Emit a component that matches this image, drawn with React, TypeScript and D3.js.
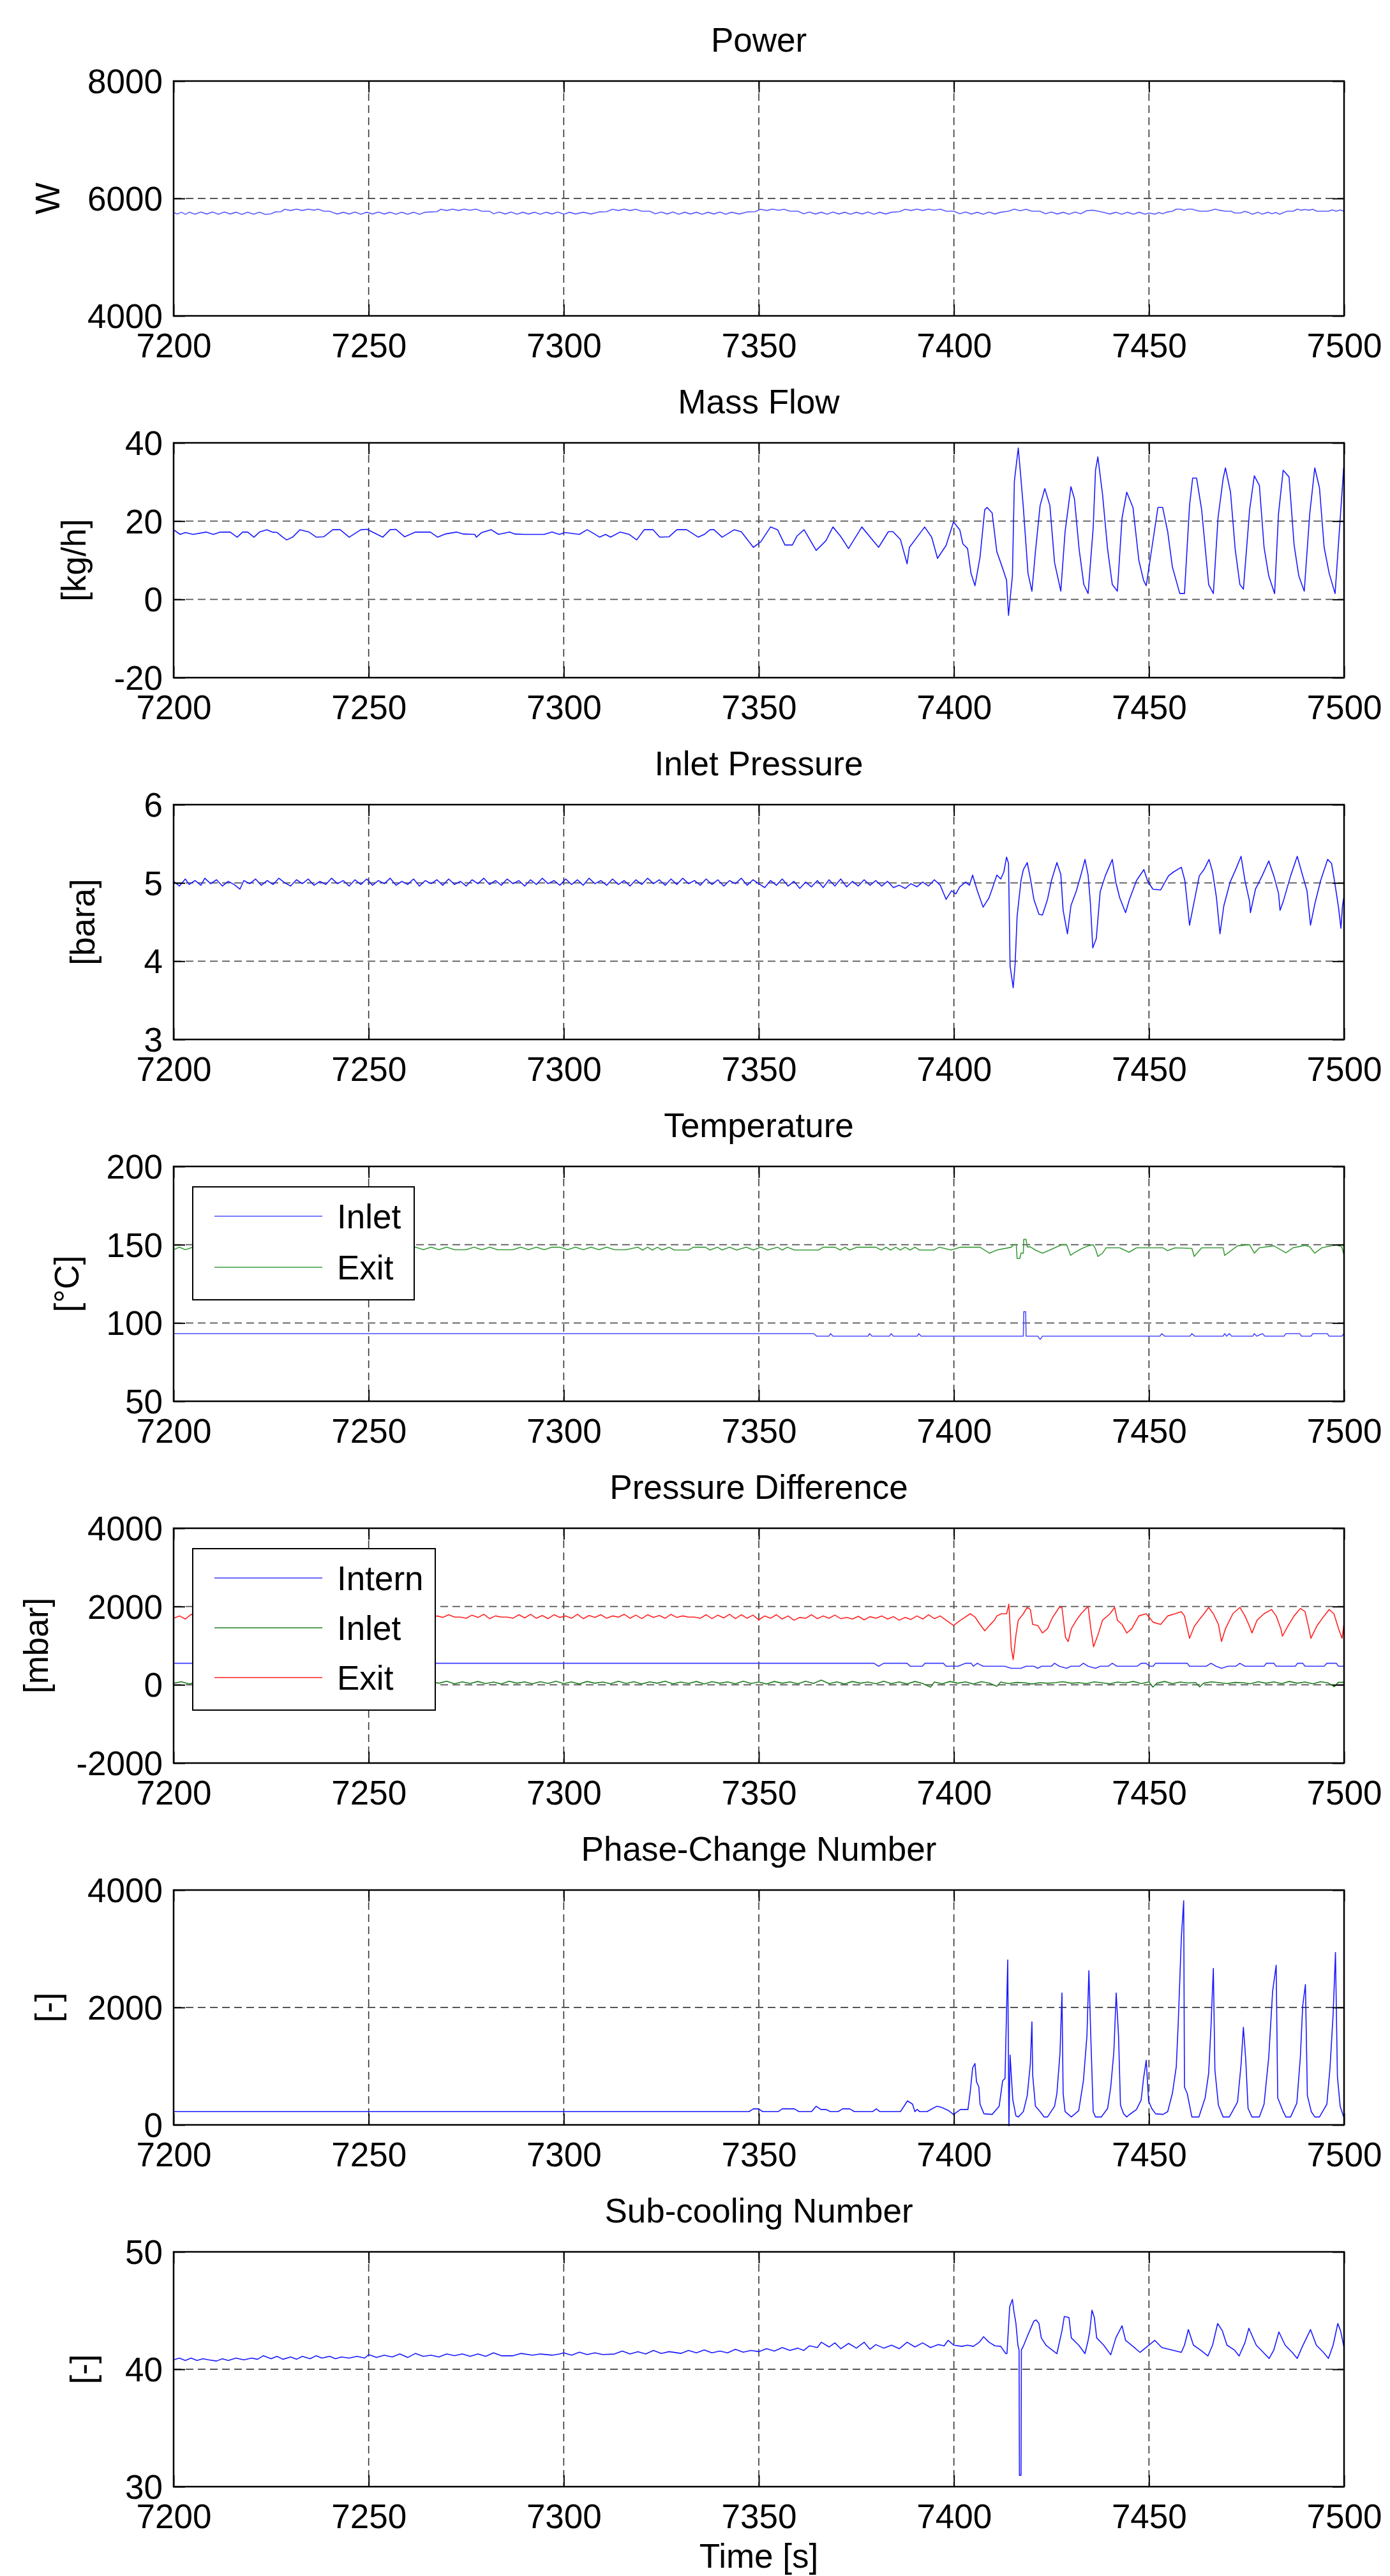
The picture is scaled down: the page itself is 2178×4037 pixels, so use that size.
import React, { useEffect, useRef } from "react";
import * as d3 from "d3";

// ---- data (time [s], value) ----
const power = [
  [7200, 5760], [7201, 5735], [7202, 5765], [7203, 5730], [7204, 5765], [7205.5, 5730], [7207, 5768], [7208.5, 5735],
  [7210, 5768], [7211.5, 5730], [7213, 5768], [7214.5, 5735], [7216, 5765], [7217.5, 5728], [7219, 5765], [7220.5, 5730],
  [7222, 5765], [7223.5, 5728], [7225, 5740], [7226, 5770], [7227.5, 5775], [7228.5, 5815], [7230, 5795], [7231.5, 5818],
  [7233, 5795], [7234.5, 5818], [7236, 5800], [7237, 5818], [7238.5, 5782], [7240, 5782], [7241, 5755], [7242, 5735],
  [7243.5, 5765], [7245, 5735], [7246.5, 5768], [7248, 5732], [7249.5, 5765], [7251, 5735], [7252.5, 5768], [7254, 5735],
  [7255.5, 5765], [7257, 5730], [7258.5, 5765], [7260, 5732], [7261.5, 5765], [7263, 5730], [7264.5, 5765], [7266, 5770],
  [7267.5, 5775], [7268.5, 5815], [7270, 5795], [7271.5, 5818], [7273, 5795], [7274.5, 5818], [7276, 5798], [7277.5, 5818],
  [7279, 5782], [7281, 5782], [7282, 5740], [7283.5, 5768], [7285, 5735], [7286.5, 5768], [7288, 5732], [7289.5, 5765],
  [7291, 5735], [7292.5, 5765], [7294, 5730], [7295.5, 5765], [7297, 5735], [7298.5, 5768], [7300, 5732], [7301.5, 5765],
  [7303, 5735], [7305, 5765], [7307, 5735], [7309, 5770], [7311, 5775], [7312.5, 5815], [7314, 5795], [7315.5, 5818],
  [7317, 5795], [7318.5, 5815], [7320, 5782], [7322, 5782], [7323.5, 5740], [7325, 5768], [7326.5, 5735], [7328, 5768],
  [7329.5, 5732], [7331, 5765], [7332.5, 5735], [7334, 5765], [7335.5, 5732], [7337, 5765], [7338.5, 5735], [7340, 5768],
  [7341.5, 5732], [7343, 5765], [7345, 5735], [7347, 5770], [7349, 5775], [7350.5, 5815], [7352, 5795], [7353.5, 5818],
  [7355, 5798], [7356.5, 5815], [7358, 5782], [7360, 5782], [7361.5, 5740], [7363, 5768], [7364.5, 5735], [7366, 5765],
  [7367.5, 5732], [7369, 5768], [7370.5, 5735], [7372, 5765], [7373.5, 5732], [7375, 5765], [7376.5, 5735], [7378, 5768],
  [7379.5, 5732], [7381, 5765], [7382.5, 5735], [7384, 5765], [7386, 5775], [7387.5, 5815], [7389, 5795], [7390.5, 5818],
  [7392, 5795], [7393.5, 5818], [7395, 5798], [7396.5, 5818], [7398, 5782], [7400, 5782], [7401.5, 5740], [7403, 5768],
  [7404.5, 5735], [7406, 5765], [7407.5, 5732], [7409, 5768], [7410.5, 5735], [7412, 5765], [7414, 5782], [7415.5, 5818],
  [7417, 5790], [7418.5, 5815], [7420, 5782], [7422, 5782], [7423.5, 5740], [7425, 5768], [7426.5, 5735], [7428, 5765],
  [7429.5, 5732], [7431, 5768], [7432.5, 5740], [7434, 5790], [7435.5, 5800], [7437, 5782], [7438.5, 5760], [7440, 5735],
  [7441.5, 5765], [7443, 5730], [7444.5, 5765], [7446, 5732], [7447.5, 5765], [7449, 5732], [7450, 5752], [7451.5, 5732],
  [7452.5, 5762], [7453.5, 5740], [7454.5, 5765], [7456, 5782], [7457, 5818], [7458, 5818], [7459, 5800], [7460, 5818],
  [7461, 5818], [7462, 5800], [7463, 5782], [7465, 5782], [7466, 5800], [7467, 5818], [7468, 5800], [7469.5, 5782],
  [7471, 5782], [7472, 5752], [7473.5, 5752], [7474.5, 5780], [7475.5, 5762], [7476.5, 5730], [7478, 5765], [7479, 5732],
  [7480.5, 5765], [7481.5, 5740], [7482.5, 5762], [7483.5, 5732], [7484.5, 5762], [7485.5, 5782], [7487, 5782], [7488, 5818],
  [7489, 5800], [7490, 5812], [7491, 5800], [7492, 5815], [7493, 5782], [7496, 5782], [7497, 5805], [7498, 5782],
  [7499, 5805], [7500, 5782],
];

const massFlow = [
  [7200, 17.8], [7201.7, 16.6], [7203, 17.1], [7205, 16.6], [7208.3, 17.2], [7210.2, 16.6], [7212, 17.2], [7214.5, 17.2],
  [7216.3, 15.9], [7217.7, 17.2], [7219, 17.2], [7220.6, 15.9], [7222, 17.2], [7223.9, 17.8], [7225.3, 17.2], [7226.5, 17.1],
  [7228, 15.9], [7229, 15.2], [7230.5, 15.9], [7232.4, 17.8], [7234.7, 17.2], [7236.6, 15.9], [7238.5, 16.0], [7240.8, 17.8],
  [7242.7, 17.8], [7245, 15.9], [7248, 17.8], [7249.6, 17.9], [7252.2, 16.6], [7253.6, 15.9], [7255.5, 17.8], [7257, 17.9],
  [7259.2, 16.0], [7262, 17.2], [7265.8, 17.2], [7267.7, 15.9], [7269.6, 16.7], [7272.5, 17.2], [7274.3, 16.7], [7277.2, 16.6],
  [7277.6, 15.9], [7279, 17.1], [7281.4, 17.8], [7283.3, 16.6], [7286.1, 17.2], [7287.5, 16.7], [7289.9, 16.6], [7295, 16.6],
  [7297, 17.2], [7298.9, 16.6], [7300.3, 17.1], [7304, 16.6], [7306, 17.8], [7307.9, 16.7], [7309.2, 15.9], [7310.7, 16.6],
  [7312, 15.9], [7314.4, 17.2], [7316.8, 16.6], [7318.7, 15.2], [7320.6, 17.8], [7322.9, 17.8], [7324.6, 15.9], [7327, 16.0],
  [7329, 17.8], [7331.5, 17.8], [7334.5, 15.9], [7336, 16.6], [7337.5, 17.8], [7338.5, 17.8], [7340.6, 15.9], [7343.7, 17.8],
  [7345.5, 17.3], [7348.6, 13.3], [7350.5, 14.7], [7353, 18.5], [7354.8, 17.8], [7356.7, 13.9], [7358.6, 13.9], [7359.8, 16.2],
  [7361.6, 17.8], [7364.7, 12.5], [7367.2, 15.0], [7369, 18.5], [7370.9, 16.2], [7373, 13.0], [7376.4, 18.5], [7380.7, 13.3],
  [7383.2, 17.3], [7384.4, 17.3], [7386.3, 15.3], [7388, 9.1], [7388.6, 13.3], [7392.5, 18.5], [7394.3, 15.9], [7395.8, 10.5],
  [7398, 13.8], [7399.9, 19.8], [7401.5, 17.8], [7402.3, 14.2], [7403.5, 13.0], [7404.4, 6.6], [7405.4, 3.5], [7406.7, 10.8],
  [7407.9, 22.9], [7408.5, 23.5], [7409.8, 22.1], [7411, 12.2], [7412.2, 8.8], [7413.5, 4.9], [7414, -4.1], [7415, 6],
  [7415.5, 30.2], [7416.5, 38.7], [7417, 33], [7417.8, 23.5], [7419, 6.6], [7420, 2.1], [7420.9, 12.2], [7422.1, 24],
  [7423.3, 28.3], [7424.6, 24], [7425.8, 9.4], [7427.4, 2.1], [7428.5, 17.3], [7430, 28.8], [7430.9, 25.7], [7432.1, 12.8],
  [7433.3, 3.8], [7434.4, 1.5], [7435.7, 18.3], [7436.3, 33], [7436.9, 36.4], [7438.1, 26.8], [7439.4, 12.8], [7440.6, 3.8],
  [7441.9, 2.1], [7443.1, 20.8], [7444.3, 27.4], [7445.9, 23.5], [7447.4, 10.0], [7448.6, 4.9], [7449.3, 3.5], [7450.6, 12.2],
  [7452.3, 23.5], [7453.5, 23.5], [7454.8, 17.3], [7456, 8.3], [7457.9, 1.5], [7459.1, 1.5], [7460.4, 24], [7461.2, 31],
  [7462.2, 31], [7463.5, 22.9], [7465.3, 3.8], [7466.5, 1.5], [7467.7, 20.8], [7469, 30.8], [7469.6, 33.6], [7470.9, 27.4],
  [7472.1, 12.8], [7473.3, 3.8], [7474.2, 2.6], [7475.8, 22.9], [7477, 31.6], [7478.3, 29.1], [7479.5, 13.3], [7480.7, 6],
  [7482.2, 1.5], [7483.2, 21.8], [7484.4, 33], [7485.9, 31.3], [7487.2, 13.9], [7488.4, 6], [7489.8, 2.1], [7491.2, 21.8],
  [7492.5, 33.6], [7493.7, 28.5], [7494.9, 13.3], [7496.2, 6.6], [7497.7, 1.5], [7498.6, 14.5], [7499.9, 33.6], [7500, 33.6],
];

const inletPressure = [
  [7200, 5.02], [7201.5, 4.96], [7203, 5.05], [7204, 4.98], [7205.5, 5.03], [7207, 4.97], [7208, 5.06], [7209.5, 4.99],
  [7211, 5.04], [7212.5, 4.96], [7214, 5.02], [7215.5, 4.98], [7217, 4.92], [7218, 5.03], [7219.5, 4.99], [7221, 5.05],
  [7222.5, 4.97], [7224, 5.03], [7225.5, 4.98], [7227, 5.06], [7228.5, 5.0], [7230, 4.96], [7231.5, 5.04], [7233, 4.99],
  [7234.5, 5.05], [7236, 4.97], [7237.5, 5.02], [7239, 4.98], [7240.5, 5.06], [7242, 4.99], [7243.5, 5.03], [7245, 4.96],
  [7246.5, 5.04], [7248, 4.98], [7249.5, 5.05], [7251, 4.97], [7252.5, 5.03], [7254, 4.99], [7255.5, 5.06], [7257, 4.97],
  [7258.5, 5.02], [7260, 4.98], [7261.5, 5.05], [7263, 4.96], [7264.5, 5.03], [7266, 4.99], [7267.5, 5.04], [7269, 4.97],
  [7270.5, 5.05], [7272, 4.98], [7273.5, 5.02], [7275, 4.96], [7276.5, 5.04], [7278, 4.99], [7279.5, 5.06], [7281, 4.98],
  [7282.5, 5.03], [7284, 4.97], [7285.5, 5.05], [7287, 4.99], [7288.5, 5.03], [7290, 4.96], [7291.5, 5.04], [7293, 4.98],
  [7294.5, 5.06], [7296, 4.99], [7297.5, 5.03], [7299, 4.97], [7300.5, 5.05], [7302, 4.98], [7303.5, 5.04], [7305, 4.97],
  [7306.5, 5.06], [7308, 4.99], [7309.5, 5.03], [7311, 4.97], [7312.5, 5.05], [7314, 4.98], [7315.5, 5.03], [7317, 4.96],
  [7318.5, 5.04], [7320, 4.98], [7321.5, 5.06], [7323, 4.99], [7324.5, 5.04], [7326, 4.97], [7327.5, 5.05], [7329, 4.98],
  [7330.5, 5.06], [7332, 4.99], [7333.5, 5.03], [7335, 4.97], [7336.5, 5.05], [7338, 4.98], [7339.5, 5.04], [7341, 4.96],
  [7342.5, 5.03], [7344, 4.99], [7345.5, 5.06], [7347, 4.97], [7348.5, 5.04], [7350, 4.99], [7351.5, 4.94], [7353, 5.03],
  [7354.5, 4.97], [7356, 5.05], [7357.5, 4.96], [7359, 5.02], [7360.5, 4.93], [7362, 5.01], [7363.5, 4.95], [7365, 5.03],
  [7366.5, 4.94], [7368, 5.04], [7369.5, 4.96], [7371, 5.05], [7372.5, 4.95], [7374, 5.02], [7375.5, 4.96], [7377, 5.04],
  [7378.5, 4.97], [7380, 5.03], [7381.5, 4.96], [7383, 5.02], [7384.5, 4.94], [7386, 4.97], [7387.5, 4.93], [7389, 4.99],
  [7390.5, 4.95], [7392, 5.01], [7393.5, 4.96], [7395, 5.04], [7396.5, 4.97], [7397.5, 4.85], [7398, 4.79], [7399.4, 4.9],
  [7400.5, 4.86], [7401.5, 4.95], [7403, 5.01], [7404, 4.97], [7404.8, 5.1], [7406, 4.9], [7407.5, 4.69], [7409, 4.81],
  [7410, 4.95], [7411, 5.1], [7412, 5.05], [7412.8, 5.14], [7413.5, 5.33], [7414, 5.25], [7414.4, 3.94], [7415.2, 3.66],
  [7415.7, 3.97], [7416.2, 4.57], [7417.2, 5.03], [7417.8, 5.17], [7418.8, 5.26], [7419.6, 5.06], [7420.5, 4.79], [7421.8, 4.6],
  [7422.7, 4.59], [7424, 4.79], [7425, 5.03], [7426.4, 5.26], [7427.4, 5.11], [7428, 4.65], [7429.1, 4.35], [7430, 4.71],
  [7431.4, 4.9], [7432.6, 5.11], [7433.6, 5.3], [7434.4, 5.1], [7435, 4.73], [7435.6, 4.17], [7436.5, 4.29], [7437.5, 4.89],
  [7438.8, 5.09], [7440.6, 5.3], [7441.5, 5.01], [7442.5, 4.81], [7444, 4.62], [7445, 4.79], [7446.8, 5.03], [7448.7, 5.17],
  [7449.6, 5.03], [7451, 4.92], [7453, 4.91], [7455, 5.09], [7456.3, 5.14], [7458.3, 5.2], [7459.2, 5.03], [7460.4, 4.46],
  [7461.7, 4.79], [7462.9, 5.09], [7464.1, 5.17], [7465.4, 5.3], [7466.3, 5.14], [7467.3, 4.81], [7468.2, 4.35], [7469.2, 4.71],
  [7470.8, 5.01], [7472.3, 5.18], [7473.6, 5.34], [7474.6, 5.03], [7475.8, 4.76], [7476, 4.62], [7477.3, 4.92], [7479, 5.09],
  [7480.7, 5.28], [7482, 5.09], [7483.2, 4.87], [7483.6, 4.65], [7484.4, 4.76], [7486.3, 5.09], [7488, 5.34], [7489.3, 5.11],
  [7490.5, 4.9], [7491.4, 4.46], [7492.5, 4.73], [7494, 5.03], [7495.8, 5.3], [7496.8, 5.25], [7497.6, 5.01], [7498.6, 4.68],
  [7499.2, 4.42], [7499.6, 4.71], [7500, 4.83],
];

const tempInlet = [
  [7200, 93.2], [7364.1, 93.2], [7364.8, 91.6], [7368, 91.6], [7368.4, 93.2], [7369, 91.6], [7378, 91.6], [7378.4, 93.2],
  [7379, 91.6], [7383.5, 91.6], [7383.9, 93.2], [7384.5, 91.6], [7390.6, 91.6], [7391, 93.2], [7391.6, 91.6], [7417.8, 91.6],
  [7417.9, 107.2], [7418.4, 107.2], [7418.5, 91.6], [7421.5, 91.6], [7422.1, 89.5], [7422.7, 91.6], [7452.8, 91.6],
  [7453.3, 93.2], [7454, 91.6], [7460.5, 91.6], [7461, 93.2], [7461.7, 91.6], [7469, 91.6], [7469.4, 93.2], [7469.9, 91.6],
  [7470.6, 93.2], [7471.2, 91.6], [7476.6, 91.6], [7477, 93.2], [7477.6, 91.6], [7479.1, 93.2], [7479.7, 91.6], [7484.6, 91.6],
  [7485.1, 93.2], [7488.6, 93.2], [7489.1, 91.6], [7491.5, 91.6], [7492, 93.2], [7495.7, 93.2], [7496.2, 91.6], [7499.4, 91.6],
  [7500, 93.2],
];

const tempExit = [
  [7200, 146.8], [7201.5, 148.4], [7203, 146.8], [7205, 148.4], [7207, 146.8], [7209, 148.4], [7211, 146.8], [7213.5, 146.8],
  [7215, 148.4], [7217, 146.8], [7219.5, 148.4], [7221, 146.8], [7223, 148.4], [7225, 146.8], [7227, 148.4], [7229, 146.8],
  [7232, 146.8], [7234, 148.4], [7236, 146.8], [7238, 148.4], [7240, 146.8], [7242, 148.4], [7244, 146.8], [7246, 148.4],
  [7248, 148.4], [7250, 146.8], [7252, 148.4], [7254, 146.8], [7256, 148.4], [7258, 146.8], [7260, 148.4], [7262, 148.4],
  [7264, 146.8], [7266, 148.4], [7268, 146.8], [7270, 148.4], [7272, 146.8], [7275, 146.8], [7277, 148.4], [7279, 146.8],
  [7281, 148.4], [7283, 146.8], [7287, 146.8], [7289, 148.4], [7291, 146.8], [7293, 148.4], [7295, 146.8], [7297, 148.4],
  [7299, 148.4], [7301, 146.8], [7303, 148.4], [7305, 146.8], [7307, 148.4], [7309, 146.8], [7311, 148.4], [7313, 146.8],
  [7316, 146.8], [7319, 148.4], [7320.2, 146.6], [7321.5, 148.4], [7322.7, 146.6], [7324, 148.4], [7325.2, 146.6],
  [7327, 148.4], [7328.3, 146.6], [7332, 146.6], [7333.2, 148.4], [7336.3, 148.4], [7337.5, 146.6], [7339.4, 148.4],
  [7340.6, 146.6], [7342.5, 148.4], [7344.3, 146.6], [7346.8, 148.4], [7348.6, 146.6], [7350.5, 148.4], [7352.3, 146.6],
  [7354.8, 148.4], [7356, 146.6], [7357.3, 148.4], [7359.1, 146.6], [7365.3, 146.6], [7366.5, 148.4], [7369.5, 148.4],
  [7370.9, 146.6], [7372.1, 148.4], [7373.3, 146.6], [7375.2, 148.4], [7380, 148.4], [7381.4, 146.6], [7382.6, 148.4],
  [7383.8, 146.6], [7385.1, 148.4], [7386.3, 146.6], [7387.5, 148.4], [7388.8, 146.6], [7390, 148.4], [7391.2, 146.6],
  [7394.9, 146.6], [7396.2, 148.4], [7399.3, 146.6], [7401.7, 148.4], [7406.7, 148.4], [7409.1, 144.6], [7411, 146.6],
  [7414.7, 148.4], [7415.3, 150], [7416, 150], [7416.2, 141.2], [7416.9, 141.2], [7417.2, 144.6], [7417.8, 144.6],
  [7417.9, 153.4], [7418.5, 153.4], [7418.8, 148.6], [7419.6, 148.6], [7420.9, 146.6], [7422.7, 144.6], [7424.6, 146.6],
  [7426.4, 148.6], [7427.7, 150], [7428.9, 150], [7429.9, 143.2], [7430.7, 144.6], [7432.6, 147.3], [7434.4, 149.3],
  [7435.7, 150], [7436.3, 147.3], [7436.9, 142.5], [7438.1, 144.6], [7439, 148], [7442.5, 148], [7444.9, 145.2],
  [7446.8, 148], [7453.6, 148], [7454.8, 146.2], [7456.7, 148], [7461, 147.6], [7461.6, 142.5], [7463.5, 148], [7469, 148],
  [7469.4, 143.2], [7470.9, 145.9], [7472.7, 149.3], [7475.8, 150], [7477, 144.6], [7478.3, 148], [7482, 149.3],
  [7485.1, 144.8], [7486.9, 148], [7490, 149.6], [7491.2, 148.6], [7492.5, 144.6], [7494.3, 148], [7498, 150],
  [7499.4, 148.6], [7500, 143.5],
];

const dpIntern = [
  [7200, 550], [7379.5, 550], [7380.7, 475], [7382, 550], [7388, 550], [7388.8, 475], [7391.9, 475], [7392.6, 550],
  [7397.3, 550], [7398, 475], [7401.1, 475], [7403, 550], [7404.4, 550], [7405, 475], [7406, 550], [7407.5, 475],
  [7413, 475], [7414.7, 420], [7417.2, 420], [7418.5, 475], [7420.5, 475], [7421.5, 420], [7422.5, 475], [7425, 475],
  [7425.8, 550], [7427, 475], [7428.9, 420], [7430, 475], [7432.2, 475], [7433.2, 550], [7434.4, 475], [7436.3, 420],
  [7437.5, 475], [7439.6, 475], [7440.6, 550], [7441.8, 475], [7447, 475], [7448, 550], [7449.2, 550], [7450.2, 475],
  [7451.1, 475], [7451.7, 550], [7459.8, 550], [7460.4, 475], [7464.7, 475], [7465.9, 550], [7467.2, 475], [7468.6, 420],
  [7470.2, 475], [7472.3, 475], [7473.3, 550], [7474.6, 475], [7479.5, 475], [7480.1, 550], [7482, 550], [7482.6, 475],
  [7487.5, 475], [7488.1, 550], [7489.4, 550], [7490, 475], [7494.9, 475], [7495.6, 550], [7498, 550], [7498.6, 475],
  [7500, 475],
];

const dpInlet = [
  [7200, 40], [7202, 80], [7204, 20], [7206, 75], [7208, 35], [7210, 90], [7212, 30], [7214, 70], [7216, 15], [7218, 85],
  [7220, 40], [7222, 75], [7224, 25], [7226, 90], [7228, 45], [7230, 70], [7232, 20], [7234, 80], [7236, 35], [7238, 95],
  [7240, 30], [7242, 70], [7244, 20], [7246, 85], [7248, 40], [7250, 75], [7252, 30], [7254, 90], [7256, 25], [7258, 70],
  [7260, 35], [7262, 85], [7264, 20], [7266, 80], [7268, 40], [7270, 90], [7272, 25], [7274, 75], [7276, 35], [7278, 85],
  [7280, 30], [7282, 70], [7284, 20], [7286, 90], [7288, 40], [7290, 75], [7292, 25], [7294, 80], [7296, 35], [7298, 90],
  [7300, 30], [7302, 75], [7304, 20], [7306, 85], [7308, 40], [7310, 70], [7312, 25], [7314, 90], [7316, 35], [7318, 80],
  [7320, 20], [7322, 75], [7324, 40], [7326, 90], [7328, 25], [7330, 70], [7332, 35], [7334, 85], [7336, 20], [7338, 80],
  [7340, 40], [7342, 75], [7344, 25], [7346, 90], [7348, 35], [7350, 70], [7352, 20], [7354, 85], [7356, 40], [7358, 75],
  [7360, 25], [7362, 90], [7364, 35], [7366, 120], [7368, 30], [7370, 75], [7372, 20], [7374, 85], [7376, 40], [7378, 70],
  [7380, 25], [7382, 90], [7384, 30], [7386, 75], [7388, 20], [7390, 85], [7392, 35], [7394, -60], [7395, 70], [7397, 25],
  [7399, 85], [7401, 40], [7403, 75], [7405, 20], [7407, 80], [7409, 45], [7411, -40], [7412, 70], [7414, 30], [7416, 60],
  [7418, 55], [7420, 20], [7422, 55], [7424, 40], [7426, 55], [7428, 80], [7430, 40], [7432, 55], [7434, 30], [7436, 75],
  [7438, 50], [7440, 25], [7442, 70], [7444, 45], [7446, 85], [7448, 30], [7450, 75], [7451, -60], [7452, 40], [7454, 85],
  [7456, 30], [7458, 70], [7460, 45], [7462, 55], [7463, -55], [7464, 40], [7466, 75], [7468, 55], [7470, 30], [7472, 60],
  [7474, 55], [7476, 25], [7478, 80], [7480, 40], [7482, 75], [7484, 30], [7486, 85], [7488, 40], [7490, 70], [7492, 25],
  [7494, 80], [7496, 45], [7497.5, -50], [7498.5, 60], [7500, 65],
];

const dpExit = [
  [7200, 1700], [7201.5, 1760], [7203, 1680], [7204.5, 1800], [7206, 1700], [7207.5, 1780], [7209, 1690], [7210.5, 1810],
  [7212, 1720], [7213.5, 1760], [7215, 1680], [7216.5, 1790], [7218, 1710], [7219.5, 1770], [7221, 1690], [7222.5, 1800],
  [7224, 1720], [7225.5, 1760], [7227, 1700], [7228.5, 1790], [7230, 1690], [7231.5, 1770], [7233, 1730], [7234.5, 1800],
  [7236, 1700], [7237.5, 1760], [7239, 1680], [7240.5, 1790], [7242, 1710], [7243.5, 1770], [7245, 1700], [7246.5, 1800],
  [7248, 1730], [7249.5, 1760], [7251, 1700], [7252.5, 1790], [7254, 1720], [7255.5, 1760], [7257, 1720], [7258.5, 1790],
  [7260, 1700], [7261.5, 1770], [7263, 1720], [7264.5, 1800], [7266, 1700], [7267.5, 1760], [7269, 1720], [7270.5, 1790],
  [7272, 1730], [7273.5, 1730], [7275, 1700], [7276.5, 1780], [7278, 1720], [7279.5, 1800], [7281, 1690], [7282.5, 1760],
  [7284, 1730], [7285.5, 1730], [7287, 1700], [7288.5, 1790], [7290, 1710], [7291.5, 1800], [7293, 1700], [7294.5, 1770],
  [7296, 1690], [7297.5, 1790], [7299, 1720], [7300.5, 1760], [7302, 1700], [7303.5, 1800], [7305, 1690], [7306.5, 1770],
  [7308, 1720], [7309.5, 1790], [7311, 1700], [7312.5, 1760], [7314, 1730], [7315.5, 1800], [7317, 1700], [7318.5, 1780],
  [7320, 1690], [7321.5, 1790], [7323, 1720], [7324.5, 1770], [7326, 1700], [7327.5, 1800], [7329, 1720], [7330.5, 1760],
  [7332, 1730], [7333.5, 1730], [7335, 1700], [7336.5, 1790], [7338, 1690], [7339.5, 1780], [7341, 1710], [7342.5, 1800],
  [7344, 1690], [7345.5, 1790], [7347, 1700], [7348.5, 1780], [7350, 1660], [7351.5, 1760], [7353, 1700], [7354.5, 1790],
  [7356, 1680], [7357.5, 1760], [7359, 1650], [7360.5, 1720], [7362, 1700], [7363.5, 1790], [7365, 1690], [7366.5, 1760],
  [7368, 1700], [7369.5, 1780], [7371, 1690], [7372.5, 1720], [7374, 1680], [7375.5, 1750], [7377, 1660], [7378.5, 1740],
  [7380, 1700], [7381.5, 1760], [7383, 1680], [7384.5, 1740], [7386, 1650], [7387.5, 1720], [7389, 1670], [7390.5, 1760],
  [7392, 1680], [7393.5, 1790], [7395, 1690], [7396.5, 1760], [7398, 1651], [7399.9, 1515], [7401.7, 1651], [7404.2, 1815],
  [7405.4, 1733], [7406.7, 1542], [7407.9, 1379], [7409.1, 1515], [7410.4, 1651], [7411, 1760], [7412.2, 1815],
  [7413.5, 1815], [7414.1, 2060], [7414.7, 943], [7415.2, 643], [7415.9, 1270], [7416.5, 1651], [7417.8, 1815],
  [7418.8, 1978], [7419.6, 1924], [7420.2, 1542], [7421.5, 1515], [7422.7, 1324], [7424, 1433], [7425.2, 1706],
  [7427, 1978], [7427.7, 1978], [7428.6, 1215], [7429.3, 1106], [7430.1, 1433], [7431.4, 1651], [7432.6, 1815],
  [7434.4, 2005], [7435.1, 1433], [7435.8, 970], [7436.9, 1270], [7438.1, 1651], [7440, 1815], [7441.2, 1978],
  [7441.9, 1651], [7443.1, 1542], [7444.3, 1324], [7445.6, 1433], [7447.4, 1760], [7449.3, 1815], [7451.1, 1597],
  [7453, 1542], [7454.8, 1760], [7456.7, 1815], [7458.3, 1869], [7459.1, 1760], [7460.4, 1188], [7461.6, 1488],
  [7462.8, 1651], [7464.1, 1815], [7465.3, 1978], [7466.5, 1815], [7467.8, 1542], [7468.6, 1106], [7469.6, 1433],
  [7471.5, 1815], [7473.3, 1978], [7474.6, 1760], [7475.8, 1488], [7476.4, 1324], [7477.7, 1651], [7479.5, 1815],
  [7481.4, 1924], [7482.6, 1760], [7483.8, 1433], [7484.2, 1242], [7485.7, 1515], [7487.2, 1760], [7488.8, 1951],
  [7490, 1869], [7491, 1433], [7491.5, 1188], [7493.1, 1515], [7494.9, 1760], [7496.2, 1924], [7497.4, 1815],
  [7498.6, 1433], [7499.5, 1188], [7500, 1569],
];

const phaseChange = [
  [7200, 226], [7347.5, 226], [7348.6, 273], [7349.9, 273], [7351, 226], [7355, 226], [7356, 273], [7359.1, 273],
  [7360.3, 226], [7363.5, 226], [7364.7, 317], [7365.9, 262], [7367.2, 262], [7368.4, 226], [7370.3, 226], [7371.5, 273],
  [7373.3, 273], [7374.5, 226], [7379.2, 226], [7380.1, 273], [7381, 226], [7386.3, 226], [7388.1, 408], [7389.4, 353],
  [7390, 226], [7390.6, 262], [7391.2, 226], [7393.1, 226], [7395.6, 317], [7396.8, 298], [7398.6, 244], [7399.9, 178],
  [7401.7, 262], [7403.6, 262], [7404.2, 571], [7404.8, 972], [7405.4, 1045], [7405.8, 735], [7406.4, 644], [7406.7, 353],
  [7407.7, 189], [7409.8, 178], [7411.6, 317], [7412.5, 753], [7413.1, 790], [7413.8, 2810], [7414.1, -47], [7414.4, 1190],
  [7415.1, 426], [7415.9, 153], [7416.5, 135], [7417.8, 226], [7418.8, 499], [7419.6, 1045], [7420, 1754], [7420.2, 844],
  [7420.9, 317], [7422.1, 226], [7423.1, 135], [7424, 135], [7425.8, 317], [7426.4, 535], [7427.2, 1227], [7427.7, 2246],
  [7428, 535], [7428.5, 226], [7430.1, 135], [7432, 244], [7433.2, 753], [7434.1, 1518], [7434.6, 2628], [7435.1, 1481],
  [7435.7, 226], [7436.3, 135], [7437.8, 135], [7439.4, 280], [7440.2, 644], [7441, 1245], [7441.6, 2246], [7442.2, 1518],
  [7442.7, 335], [7443.5, 189], [7444.3, 135], [7444.9, 171], [7446.8, 262], [7448, 426], [7448.6, 790], [7449.3, 1099],
  [7449.9, 408], [7450.7, 280], [7451.7, 189], [7453.6, 178], [7454.8, 226], [7456, 535], [7457, 990], [7457.5, 1736],
  [7458.3, 3192], [7458.9, 3818], [7459.1, 644], [7459.8, 535], [7461, 135], [7462.8, 135], [7464.4, 462], [7465.3, 881],
  [7465.9, 1682], [7466.5, 2664], [7466.9, 935], [7467.8, 335], [7469, 135], [7470.6, 135], [7472.7, 389], [7473.6, 1026],
  [7474.2, 1663], [7474.8, 1117], [7475.4, 280], [7476.4, 135], [7478.3, 135], [7479.5, 353], [7480.7, 1154],
  [7481.7, 2282], [7482.6, 2719], [7483, 462], [7484.4, 226], [7485.1, 135], [7486.3, 135], [7487.9, 371], [7488.8, 1154],
  [7489.4, 2027], [7490.1, 2391], [7490.6, 499], [7491.6, 226], [7492.5, 135], [7493.7, 135], [7495.6, 353], [7496.4, 972],
  [7497.2, 1882], [7497.8, 2937], [7498.3, 826], [7499, 317], [7499.9, 135], [7500, 135],
];

const subCooling = [
  [7200, 40.8], [7201.5, 40.95], [7203, 40.75], [7204.5, 40.95], [7206, 40.75], [7207.5, 40.9], [7209, 40.8], [7211, 40.7],
  [7212.5, 40.9], [7214, 40.75], [7216, 40.95], [7218, 40.8], [7220, 40.95], [7221.5, 40.85], [7223, 41.15], [7225, 40.9],
  [7226.5, 41.1], [7228, 40.85], [7230, 41.05], [7231.5, 40.85], [7233, 41.1], [7235, 40.9], [7236.5, 41.15], [7238, 40.95],
  [7240, 41.1], [7241.5, 40.9], [7243, 41.05], [7245, 40.95], [7247, 41.1], [7249, 40.95], [7250, 41.25], [7252, 41.0],
  [7254, 41.2], [7256, 41.05], [7258, 41.3], [7260, 41.0], [7262, 41.35], [7264, 41.1], [7266, 41.2], [7268, 41.05],
  [7270, 41.3], [7272, 41.15], [7274, 41.3], [7276, 41.1], [7278, 41.3], [7280, 41.1], [7282, 41.4], [7284, 41.15],
  [7287, 41.15], [7289, 41.35], [7292, 41.2], [7294, 41.3], [7297, 41.2], [7299, 41.3], [7300, 41.4], [7302, 41.2],
  [7304, 41.45], [7306, 41.25], [7308, 41.4], [7310, 41.25], [7313, 41.3], [7315, 41.55], [7317, 41.3], [7319, 41.5],
  [7321, 41.3], [7323, 41.6], [7325, 41.35], [7327, 41.5], [7330, 41.35], [7332, 41.6], [7334, 41.4], [7336, 41.65],
  [7338, 41.4], [7340, 41.55], [7342, 41.4], [7344, 41.7], [7346, 41.45], [7348, 41.6], [7350, 41.5], [7352, 41.75],
  [7354, 41.55], [7356, 41.85], [7358, 41.6], [7360, 41.8], [7361.5, 41.6], [7363, 42.0], [7365, 41.85], [7366, 42.3],
  [7368, 41.9], [7369.5, 42.25], [7371, 41.75], [7373, 42.2], [7375, 41.8], [7377, 42.3], [7378.5, 41.7], [7380, 42.1],
  [7382, 41.8], [7384, 42.05], [7386, 41.75], [7388, 42.3], [7390, 41.9], [7392, 42.25], [7394, 41.85], [7396, 42.1],
  [7397.5, 42.0], [7398.5, 42.46], [7400, 42.05], [7402, 41.95], [7403.5, 42.05], [7405, 41.95], [7406.5, 42.3],
  [7407.6, 42.77], [7409, 42.3], [7410.5, 42.0], [7412, 41.95], [7413.3, 41.33], [7413.6, 41.33], [7414.3, 45.33],
  [7415, 45.95], [7415.4, 44.9], [7415.9, 43.9], [7416.4, 42.05], [7416.7, 41.64], [7416.8, 30.97], [7417.2, 30.97],
  [7417.3, 41.64], [7417.9, 42.05], [7418.9, 42.87], [7420.5, 44.1], [7421.1, 44.2], [7421.8, 43.9], [7422.4, 42.67],
  [7423.6, 42.05], [7426.4, 41.33], [7427.7, 43.28], [7428.3, 44.5], [7429.5, 44.4], [7430.1, 42.67], [7432, 42.05],
  [7433.6, 41.33], [7434.4, 42.46], [7434.8, 43.18], [7435.4, 45.03], [7436, 44.4], [7436.6, 42.67], [7438.4, 42.05],
  [7440.2, 41.23], [7441.5, 42.67], [7443.1, 43.7], [7444, 42.46], [7445.9, 41.95], [7447.7, 41.44], [7449.6, 41.95],
  [7451.5, 42.46], [7453.3, 41.85], [7455.8, 41.64], [7458.3, 41.44], [7459.1, 42.05], [7460.1, 43.38], [7461.4, 42.05],
  [7463.2, 41.64], [7465.1, 41.13], [7466.3, 42.05], [7467.6, 43.9], [7468.8, 43.28], [7470, 42.05], [7471.9, 41.64],
  [7473.1, 41.13], [7474.6, 42.26], [7475.6, 43.49], [7477.5, 42.05], [7479.3, 41.44], [7480.8, 40.92], [7482, 41.64],
  [7483.3, 43.18], [7484.9, 42.05], [7486.7, 41.44], [7488, 40.92], [7489.2, 41.85], [7491.4, 43.38], [7492.9, 42.05],
  [7494.7, 41.44], [7496, 40.92], [7497.2, 42.05], [7498.4, 43.9], [7499.1, 43.28], [7500, 41.85],
];

const timeTicks = [7200, 7250, 7300, 7350, 7400, 7450, 7500];

const panels = [
  { title: "Power", ylabel: "W", domain: [4000, 8000], ticks: [4000, 6000, 8000],
    series: [{ name: "Power", data: power, color: "#5c5cff" }] },
  { title: "Mass Flow", ylabel: "[kg/h]", domain: [-20, 40], ticks: [-20, 0, 20, 40],
    series: [{ name: "Mass Flow", data: massFlow, color: "#1a1aff" }] },
  { title: "Inlet Pressure", ylabel: "[bara]", domain: [3, 6], ticks: [3, 4, 5, 6],
    series: [{ name: "Inlet Pressure", data: inletPressure, color: "#1a1aff" }] },
  { title: "Temperature", ylabel: "[°C]", domain: [50, 200], ticks: [50, 100, 150, 200], legend: true,
    series: [
      { name: "Inlet", data: tempInlet, color: "#4d4dff" },
      { name: "Exit", data: tempExit, color: "#3c9c3c" },
    ] },
  { title: "Pressure Difference", ylabel: "[mbar]", domain: [-2000, 4000], ticks: [-2000, 0, 2000, 4000], legend: true,
    series: [
      { name: "Intern", data: dpIntern, color: "#3a3aff" },
      { name: "Inlet", data: dpInlet, color: "#1e7d1e" },
      { name: "Exit", data: dpExit, color: "#ff2222" },
    ] },
  { title: "Phase-Change Number", ylabel: "[-]", domain: [0, 4000], ticks: [0, 2000, 4000],
    series: [{ name: "Npch", data: phaseChange, color: "#1a1aff" }] },
  { title: "Sub-cooling Number", ylabel: "[-]", domain: [30, 50], ticks: [30, 40, 50],
    series: [{ name: "Nsub", data: subCooling, color: "#1a1aff" }] },
];

const WIDTH = 2178;
const HEIGHT = 4037;
const LEFT = 272;
const RIGHT = 2106;
const TOP0 = 127;
const STEP = 567;
const PH = 368;
const FONT = "'Liberation Sans', Arial, Helvetica, sans-serif";
const FS = 53;

// plain hyphen for negatives, as in the original figure
const fmt = (d) => String(d);

const App = () => {
  const ref = useRef(null);

  useEffect(() => {
    document.body.style.margin = "0";
    const svg = d3.select(ref.current);
    svg.selectAll("*").remove();

    const x = d3.scaleLinear().domain([7200, 7500]).range([LEFT, RIGHT]);

    panels.forEach((p, i) => {
      const top = TOP0 + STEP * i;
      const bottom = top + PH;
      const y = d3.scaleLinear().domain(p.domain).range([bottom, top]);
      const g = svg.append("g").attr("class", "panel");

      g.append("rect").attr("x", LEFT).attr("y", top).attr("width", RIGHT - LEFT).attr("height", PH).attr("fill", "#fff");

      // dashed grid
      g.selectAll(".vgrid")
        .data(timeTicks.slice(1, -1))
        .enter()
        .append("line")
        .attr("x1", (d) => x(d)).attr("x2", (d) => x(d))
        .attr("y1", top).attr("y2", bottom)
        .attr("stroke", "#333").attr("stroke-width", 1.6).attr("stroke-dasharray", "12,7");
      g.selectAll(".hgrid")
        .data(p.ticks.slice(1, -1))
        .enter()
        .append("line")
        .attr("x1", LEFT).attr("x2", RIGHT)
        .attr("y1", (d) => y(d)).attr("y2", (d) => y(d))
        .attr("stroke", "#555").attr("stroke-width", 1.8).attr("stroke-dasharray", "12,7");

      // clip
      const clipId = `clip-${i}`;
      svg.append("clipPath").attr("id", clipId)
        .append("rect").attr("x", LEFT).attr("y", top - 2).attr("width", RIGHT - LEFT).attr("height", PH + 4);

      const line = d3.line().x((d) => x(d[0])).y((d) => y(d[1]));
      p.series.forEach((s) => {
        g.append("path")
          .datum(s.data)
          .attr("clip-path", `url(#${clipId})`)
          .attr("fill", "none")
          .attr("stroke", s.color)
          .attr("stroke-width", 1.6)
          .attr("stroke-linejoin", "round")
          .attr("d", line);
      });

      // axes with inward ticks
      const bottomAxis = g.append("g").attr("transform", `translate(0,${bottom})`)
        .call(d3.axisBottom(x).tickValues(timeTicks).tickSize(-18).tickPadding(27).tickFormat(fmt));
      const topAxis = g.append("g").attr("transform", `translate(0,${top})`)
        .call(d3.axisTop(x).tickValues(timeTicks).tickSize(-18).tickFormat(() => ""));
      const leftAxis = g.append("g").attr("transform", `translate(${LEFT},0)`)
        .call(d3.axisLeft(y).tickValues(p.ticks).tickSize(-18).tickPadding(17).tickFormat(fmt));
      const rightAxis = g.append("g").attr("transform", `translate(${RIGHT},0)`)
        .call(d3.axisRight(y).tickValues(p.ticks).tickSize(-18).tickFormat(() => ""));

      [bottomAxis, topAxis, leftAxis, rightAxis].forEach((a) => {
        a.select(".domain").remove();
        a.selectAll(".tick line").attr("stroke", "#000").attr("stroke-width", 2);
        a.attr("font-family", FONT).attr("font-size", FS);
        a.selectAll("text").attr("fill", "#000");
      });
      leftAxis.selectAll("text").attr("dy", "0.35em");

      // box
      g.append("rect").attr("x", LEFT).attr("y", top).attr("width", RIGHT - LEFT).attr("height", PH)
        .attr("fill", "none").attr("stroke", "#000").attr("stroke-width", 2.5);

      // title
      g.append("text").attr("x", (LEFT + RIGHT) / 2).attr("y", top - 46)
        .attr("text-anchor", "middle").attr("font-family", FONT).attr("font-size", FS).text(p.title);

      // y label placed left of the widest tick label
      let minX = LEFT - 80;
      leftAxis.selectAll("text").each(function () {
        const b = this.getBBox();
        const left = LEFT + b.x;
        if (left < minX) minX = left;
      });
      g.append("text")
        .attr("transform", `translate(${minX - 44},${(top + bottom) / 2}) rotate(-90)`)
        .attr("text-anchor", "middle").attr("font-family", FONT).attr("font-size", FS).text(p.ylabel);

      // legend
      if (p.legend) {
        const two = p.series.length === 2;
        const lg = g.append("g").attr("transform", `translate(302,${top + 32})`);
        lg.append("rect").attr("width", two ? 347 : 380).attr("height", two ? 177 : 253)
          .attr("fill", "#fff").attr("stroke", "#000").attr("stroke-width", 2);
        p.series.forEach((s, k) => {
          const cy = 46 + k * (two ? 80 : 78);
          lg.append("line").attr("x1", 34).attr("x2", 203).attr("y1", cy).attr("y2", cy)
            .attr("stroke", s.color).attr("stroke-width", 1.6);
          lg.append("text").attr("x", 226).attr("y", cy).attr("dy", "0.35em")
            .attr("font-family", FONT).attr("font-size", FS).text(s.name);
        });
      }
    });

    svg.append("text")
      .attr("x", (LEFT + RIGHT) / 2).attr("y", 4024)
      .attr("text-anchor", "middle").attr("font-family", FONT).attr("font-size", FS)
      .text("Time [s]");
  }, []);

  return <svg ref={ref} width={WIDTH} height={HEIGHT} style={{ display: "block", background: "#fff" }} />;
};

export default App;
